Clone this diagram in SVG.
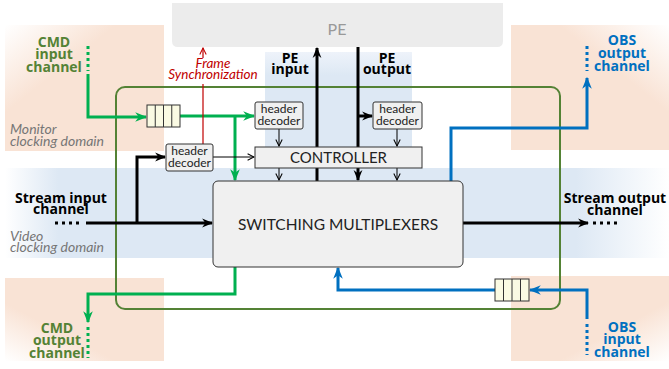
<svg xmlns="http://www.w3.org/2000/svg" width="669" height="369" viewBox="0 0 669 369">
<defs>
<style>
text{font-family:Lato,"Open Sans","Liberation Sans",sans-serif}
.lbl{font-family:"Open Sans","Liberation Sans",sans-serif;font-weight:bold;font-size:14px;text-anchor:middle}
.dom{font-style:italic;font-size:14px;fill:#767676}
.hd{font-size:12px;text-anchor:middle;fill:#222}
.box{fill:#f0f0f0;stroke:#333;stroke-width:1}
.q{fill:#fafae3;stroke:#333;stroke-width:1}
.g{stroke:#00b050;stroke-width:3;fill:none}
.b{stroke:#0070c0;stroke-width:3;fill:none}
.k{stroke:#000;stroke-width:3;fill:none}
.t{stroke:#000;stroke-width:1;fill:none}
</style>
<linearGradient id="pTL" x1="0" y1="0" x2="1" y2="1"><stop offset="0" stop-color="#fff"/><stop offset="0.35" stop-color="#f9e3d5"/></linearGradient>
<linearGradient id="pTR" x1="1" y1="0" x2="0" y2="1"><stop offset="0" stop-color="#fff"/><stop offset="0.35" stop-color="#f9e3d5"/></linearGradient>
<linearGradient id="pBL" x1="0" y1="1" x2="1" y2="0"><stop offset="0" stop-color="#fff"/><stop offset="0.35" stop-color="#f9e3d5"/></linearGradient>
<linearGradient id="pBR" x1="1" y1="1" x2="0" y2="0"><stop offset="0" stop-color="#fff"/><stop offset="0.35" stop-color="#f9e3d5"/></linearGradient>
<linearGradient id="bH" x1="0" y1="0" x2="1" y2="0"><stop offset="0" stop-color="#fff"/><stop offset="0.08" stop-color="#dde8f4"/><stop offset="0.86" stop-color="#dde8f4"/><stop offset="1" stop-color="#fff"/></linearGradient>
<linearGradient id="bV" x1="0" y1="0" x2="0" y2="1"><stop offset="0" stop-color="#eef3fa"/><stop offset="0.2" stop-color="#dde8f4"/></linearGradient>
<marker id="aG" viewBox="0 0 10 10" refX="9" refY="5" markerUnits="userSpaceOnUse" markerWidth="12" markerHeight="12" orient="auto"><path d="M0,1 L10,5 L0,9 L3,5 Z" fill="#00b050"/></marker>
<marker id="aB" viewBox="0 0 10 10" refX="9" refY="5" markerUnits="userSpaceOnUse" markerWidth="12" markerHeight="12" orient="auto"><path d="M0,1 L10,5 L0,9 L3,5 Z" fill="#0070c0"/></marker>
<marker id="aK" viewBox="0 0 10 10" refX="9" refY="5" markerUnits="userSpaceOnUse" markerWidth="11" markerHeight="11" orient="auto"><path d="M0,1 L10,5 L0,9 L3,5 Z" fill="#000"/></marker>
<marker id="aT" viewBox="0 0 10 10" refX="9" refY="5" markerUnits="userSpaceOnUse" markerWidth="8" markerHeight="8" orient="auto"><path d="M1,1 L9,5 L1,9" fill="none" stroke="#000" stroke-width="1.3"/></marker>
<marker id="aR" viewBox="0 0 10 10" refX="9" refY="5" markerUnits="userSpaceOnUse" markerWidth="8" markerHeight="8" orient="auto"><path d="M1,1 L9,5 L1,9" fill="none" stroke="#c00000" stroke-width="1.3"/></marker>
</defs>

<!-- backgrounds -->
<g id="backgrounds">
<rect x="5" y="25" width="159" height="126" fill="url(#pTL)"/>
<rect x="511" y="25" width="158" height="125" fill="url(#pTR)"/>
<rect x="5" y="278" width="159" height="83" fill="url(#pBL)"/>
<rect x="511" y="276" width="158" height="85" fill="url(#pBR)"/>
<rect x="5" y="168" width="664" height="90" fill="url(#bH)"/>
<rect x="265" y="52" width="147" height="116" fill="url(#bV)"/>
<text class="dom" x="10" y="134">Monitor</text>
<text class="dom" x="10" y="146">clocking domain</text>
<text class="dom" x="10" y="241">Video</text>
<text class="dom" x="10" y="252">clocking domain</text>
</g>

<g id="pe">
<path d="M172,3 H503 V41 Q503,47 497,47 H178 Q172,47 172,41 Z" fill="#ececec"/>
<text x="337" y="35" font-size="16" fill="#999" text-anchor="middle">PE</text>
</g>

<g id="monitor-domain">
<rect x="116" y="87" width="444" height="222" rx="9" fill="none" stroke="#548235" stroke-width="2"/>
</g>

<!-- connectors -->
<g id="connectors">
<!-- CMD input -->
<line x1="88" y1="46" x2="88" y2="71" class="g" stroke-dasharray="3 3"/>
<path d="M88,74 V117 H146" class="g" marker-end="url(#aG)"/>
<path d="M180,116 H254" class="g" marker-end="url(#aG)"/>
<path d="M235,116 V180" class="g" marker-end="url(#aG)"/>
<!-- CMD output -->
<path d="M235,267 V294 H88 V322" class="g" marker-end="url(#aG)"/>
<line x1="88" y1="327" x2="88" y2="358" class="g" stroke-dasharray="3 3"/>
<!-- frame sync -->
<path d="M203,144 V84 M203,58 V48" stroke="#c00000" stroke-width="1.2" fill="none" marker-end="url(#aR)"/>
<!-- stream input -->
<line x1="55" y1="223" x2="81" y2="223" class="k" stroke-dasharray="3 4"/>
<path d="M86,223 H212" class="k" marker-end="url(#aK)"/>
<path d="M137,223 V157 H165" class="k" marker-end="url(#aK)"/>
<!-- stream output -->
<path d="M463,223 H588" class="k" marker-end="url(#aK)"/>
<line x1="593" y1="223" x2="619" y2="223" class="k" stroke-dasharray="3 4"/>
<!-- PE input/output -->
<path d="M317,181 V48" class="k" marker-end="url(#aK)"/>
<path d="M358,47 V180" class="k" marker-end="url(#aK)"/>
<path d="M358,116 H372" class="k" marker-end="url(#aK)"/>
<!-- thin control arrows -->
<path d="M213,157 H254" class="t" marker-end="url(#aT)"/>
<path d="M279,129 V146" class="t" marker-end="url(#aT)"/>
<path d="M397,129 V146" class="t" marker-end="url(#aT)"/>
<path d="M279,168 V180" class="t" marker-end="url(#aT)"/>
<path d="M397,168 V180" class="t" marker-end="url(#aT)"/>
<!-- OBS output -->
<path d="M451,181 V128 H587 V78" class="b" marker-end="url(#aB)"/>
<line x1="587" y1="46" x2="587" y2="71" class="b" stroke-dasharray="3 3"/>
<!-- OBS input -->
<line x1="587" y1="324" x2="587" y2="355" class="b" stroke-dasharray="3 3"/>
<path d="M587,319 V290 H530" class="b" marker-end="url(#aB)"/>
<path d="M495,290 H338 V268" class="b" marker-end="url(#aB)"/>
</g>

<g id="queue-cmd">
<rect class="q" x="147" y="105" width="33" height="22"/>
<path d="M155.25,105 V127 M163.5,105 V127 M171.75,105 V127" stroke="#333" stroke-width="1"/>
</g>
<g id="queue-obs">
<rect class="q" x="495" y="279" width="34" height="22"/>
<path d="M503.5,279 V301 M512,279 V301 M520.5,279 V301" stroke="#333" stroke-width="1"/>
</g>

<g id="hd-left">
<rect class="box" x="166" y="144" width="47" height="27" rx="2"/>
<text class="hd" x="189.5" y="155">header</text>
<text class="hd" x="189.5" y="167">decoder</text>
</g>
<g id="hd-mid">
<rect class="box" x="255" y="102" width="48" height="27" rx="2"/>
<text class="hd" x="279" y="113">header</text>
<text class="hd" x="279" y="125">decoder</text>
</g>
<g id="hd-right">
<rect class="box" x="373" y="102" width="49" height="27" rx="2"/>
<text class="hd" x="397.5" y="113">header</text>
<text class="hd" x="397.5" y="125">decoder</text>
</g>
<g id="controller">
<rect class="box" x="255" y="147" width="167" height="21"/>
<text x="338.5" y="163" font-size="15" text-anchor="middle" fill="#222">CONTROLLER</text>
</g>
<g id="switching">
<rect class="box" x="213" y="181" width="250" height="86" rx="5"/>
<text x="338" y="230" font-size="15.5" text-anchor="middle" fill="#222">SWITCHING MULTIPLEXERS</text>
</g>

<g id="labels">
<text class="lbl" fill="#548235" x="54" y="47">CMD</text>
<text class="lbl" fill="#548235" x="54" y="59">input</text>
<text class="lbl" fill="#548235" x="54" y="72">channel</text>
<text class="lbl" fill="#548235" x="57" y="333">CMD</text>
<text class="lbl" fill="#548235" x="57" y="345">output</text>
<text class="lbl" fill="#548235" x="57" y="358">channel</text>
<text class="lbl" fill="#0070c0" x="622" y="45">OBS</text>
<text class="lbl" fill="#0070c0" x="622" y="58">output</text>
<text class="lbl" fill="#0070c0" x="622" y="71">channel</text>
<text class="lbl" fill="#0070c0" x="622" y="332">OBS</text>
<text class="lbl" fill="#0070c0" x="622" y="344">input</text>
<text class="lbl" fill="#0070c0" x="622" y="357">channel</text>
<text class="lbl" fill="#000" x="61" y="203">Stream input</text>
<text class="lbl" fill="#000" x="61" y="214">channel</text>
<text class="lbl" fill="#000" x="615" y="203">Stream output</text>
<text class="lbl" fill="#000" x="615" y="215">channel</text>
<text class="lbl" fill="#000" x="290" y="63">PE</text>
<text class="lbl" fill="#000" x="290" y="74">input</text>
<text class="lbl" fill="#000" x="387" y="63">PE</text>
<text class="lbl" fill="#000" x="387" y="74">output</text>
<text x="213" y="68" font-size="13.5" font-style="italic" fill="#c00000" text-anchor="middle">Frame</text>
<text x="213" y="79" font-size="13.5" font-style="italic" fill="#c00000" text-anchor="middle">Synchronization</text>
</g>
</svg>
